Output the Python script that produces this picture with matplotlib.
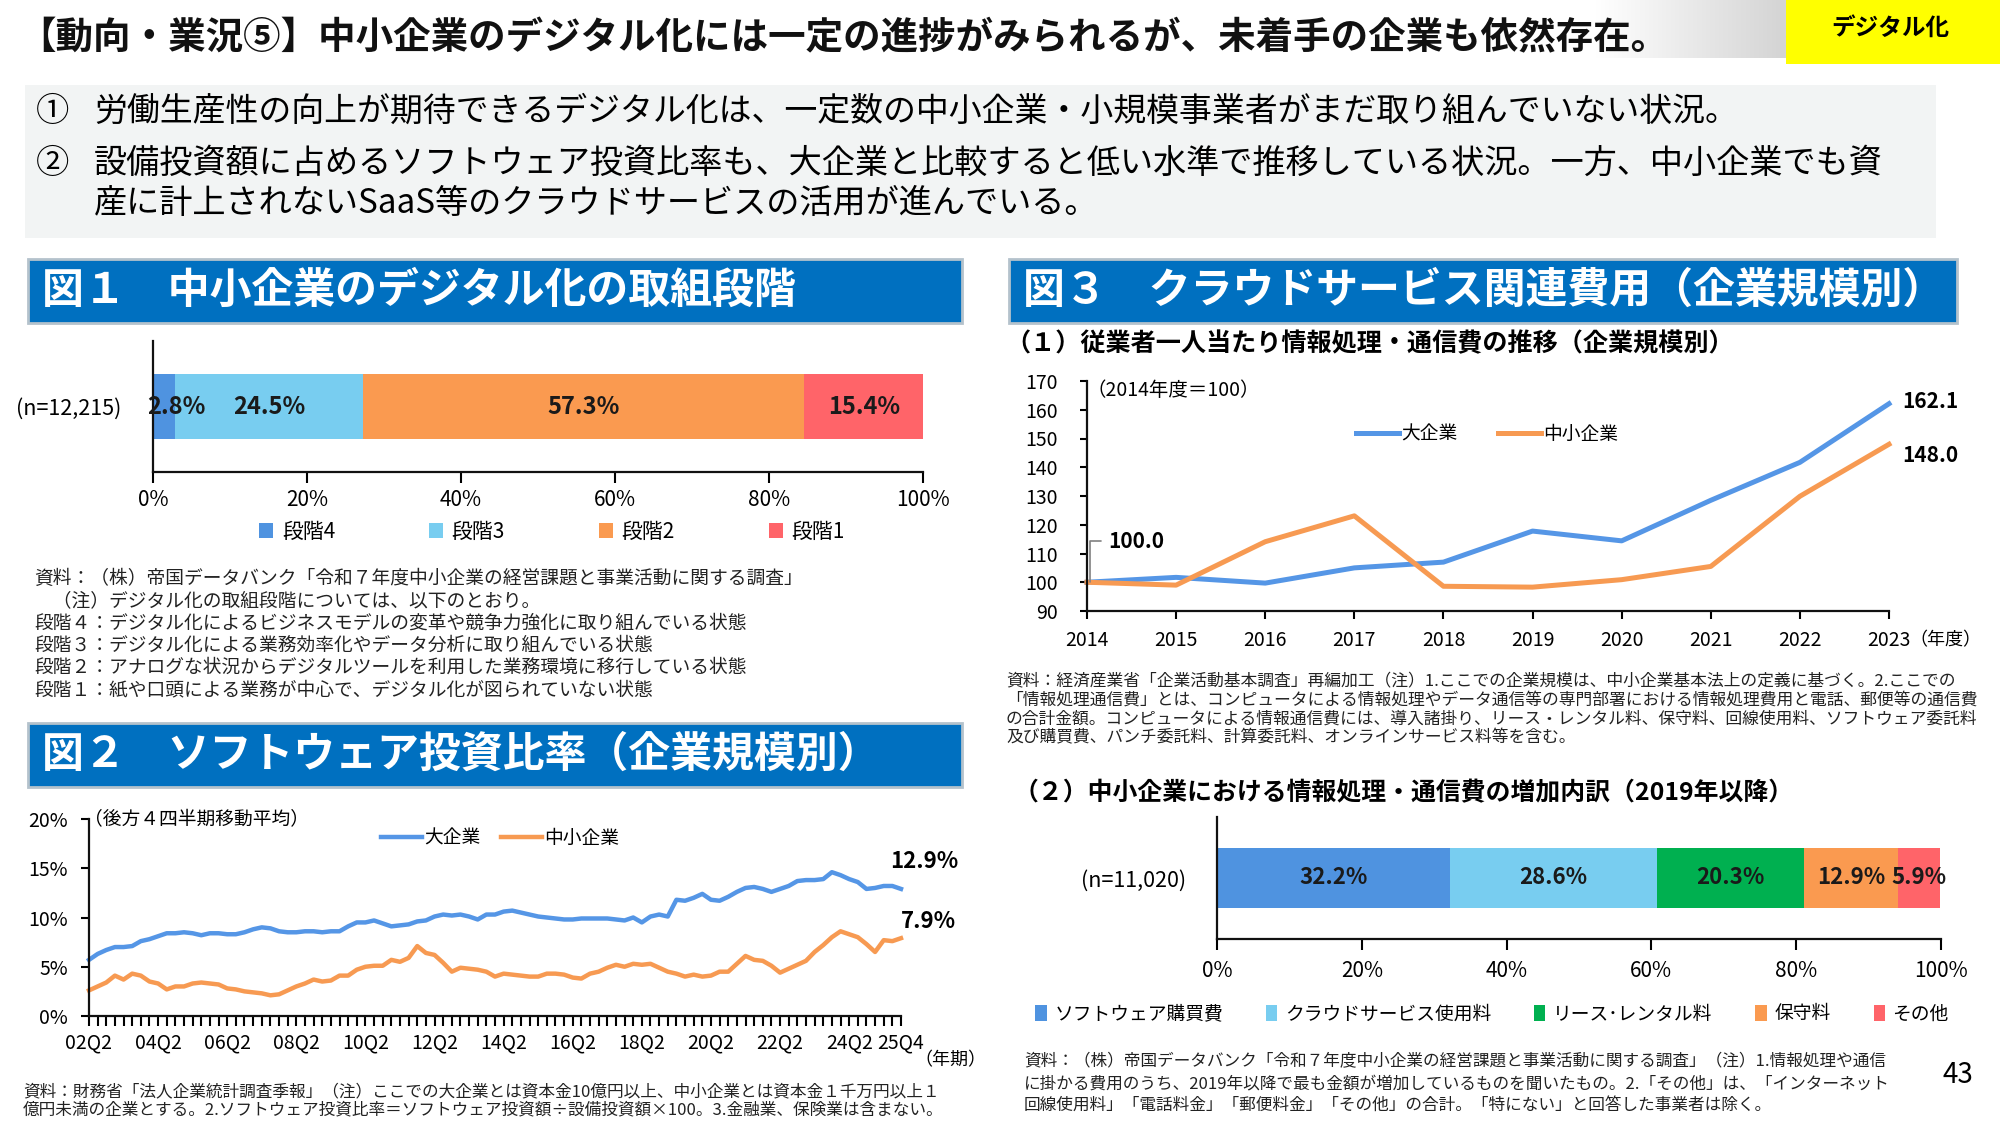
import numpy as np
import pandas as pd
import matplotlib
matplotlib.use('Agg')
import matplotlib.pyplot as plt
from matplotlib.patches import Rectangle
from matplotlib.colors import LinearSegmentedColormap

plt.rcParams['font.family'] = ['Noto Sans CJK JP', 'DejaVu Sans']

W, H = 2000, 1125

# ---- データ ----
# 図1 デジタル化の取組段階
stage_labels = ['段階4', '段階3', '段階2', '段階1']
stage_share = [2.8, 24.5, 57.3, 15.4]
stage_colors = ['#4F93E0', '#78CDF0', '#FA9A50', '#FF6469']

# 図2 ソフトウェア投資比率（後方4四半期移動平均, %） 02Q2〜25Q4
quarters = pd.period_range('2002Q2', '2025Q4', freq='Q')
q_labels = [f'{p.year % 100:02d}Q{p.quarter}' for p in quarters]
sw_large = [5.7, 6.3, 6.7, 7.0, 7.0, 7.1, 7.6, 7.8, 8.1, 8.4,
            8.4, 8.5, 8.4, 8.2, 8.4, 8.4, 8.3, 8.3, 8.5, 8.8,
            9.0, 8.9, 8.6, 8.5, 8.5, 8.6, 8.6, 8.5, 8.6, 8.6,
            9.1, 9.5, 9.5, 9.7, 9.4, 9.1, 9.2, 9.3, 9.6, 9.7,
            10.1, 10.3, 10.2, 10.3, 10.1, 9.8, 10.3, 10.3, 10.6, 10.7,
            10.5, 10.3, 10.1, 10.0, 9.9, 9.8, 9.8, 9.9, 9.9, 9.9,
            9.9, 9.8, 9.7, 10.0, 9.5, 10.1, 10.3, 10.1, 11.8, 11.7,
            12.0, 12.4, 11.8, 11.7, 12.1, 12.6, 13.0, 13.1, 12.9, 12.6,
            12.9, 13.2, 13.7, 13.8, 13.8, 13.9, 14.6, 14.3, 13.9, 13.6,
            12.9, 13.0, 13.2, 13.2, 12.9]
sw_small = [2.6, 3.0, 3.4, 4.1, 3.7, 4.3, 4.1, 3.5, 3.3, 2.7,
            3.0, 3.0, 3.3, 3.4, 3.3, 3.2, 2.8, 2.7, 2.5, 2.4,
            2.3, 2.1, 2.2, 2.6, 3.0, 3.3, 3.7, 3.5, 3.6, 4.1,
            4.1, 4.7, 5.0, 5.1, 5.1, 5.7, 5.5, 5.9, 7.1, 6.4,
            6.2, 5.4, 4.5, 4.9, 4.8, 4.7, 4.5, 4.0, 4.3, 4.2,
            4.1, 4.0, 4.0, 4.3, 4.3, 4.2, 3.9, 3.8, 4.3, 4.5,
            4.9, 5.2, 5.0, 5.3, 5.2, 5.3, 4.9, 4.5, 4.3, 4.0,
            4.2, 4.0, 4.1, 4.5, 4.5, 5.3, 6.1, 5.7, 5.6, 5.1,
            4.4, 4.8, 5.2, 5.6, 6.5, 7.2, 8.0, 8.6, 8.3, 8.0,
            7.3, 6.5, 7.7, 7.6, 7.9]

# 図3(1) 従業者一人当たり情報処理・通信費（2014年度=100）
years = list(range(2014, 2024))
it_large = [100.0, 101.7, 99.7, 105.0, 107.0, 117.8, 114.4, 128.5, 141.7, 162.1]
it_small = [100.0, 99.0, 114.1, 123.1, 98.6, 98.3, 100.9, 105.5, 129.9, 148.0]

# 図3(2) 増加内訳
inc_labels = ['ソフトウェア購買費', 'クラウドサービス使用料', 'リース･レンタル料', '保守料', 'その他']
inc_share = [32.2, 28.6, 20.3, 12.9, 5.9]
inc_colors = ['#4F93E0', '#78CDF0', '#00B050', '#FA9A50', '#FF6469']

BLUE = '#5596E6'
ORANGE = '#F79A52'
HEAD = '#0070C0'


def fbox(x0, y0, x1, y1):
    return [x0 / W, 1 - y1 / H, (x1 - x0) / W, (y1 - y0) / H]


def ftext(x, y, s, **kw):
    return fig.text(x / W, 1 - y / H, s, **kw)


def frect(x0, y0, x1, y1, **kw):
    fig.add_artist(Rectangle((x0 / W, 1 - y1 / H), (x1 - x0) / W, (y1 - y0) / H,
                             transform=fig.transFigure, **kw))


def notes(x, y0, step, lines, size=12):
    for k, s in enumerate(lines):
        ftext(x, y0 + k * step, s, fontsize=size, va='center', color='#222222')


def style_axes(ax):
    for s in ['top', 'right']:
        ax.spines[s].set_visible(False)
    for s in ['left', 'bottom']:
        ax.spines[s].set_linewidth(1.6)
        ax.spines[s].set_color('#111111')


fig = plt.figure(figsize=(20, 11.25), dpi=100)

# ---- ヘッダー ----
ftext(18, 38, '【動向・業況⑤】中小企業のデジタル化には一定の進捗がみられるが、未着手の企業も依然存在。',
      fontsize=27, fontweight='bold', va='center', color='#111111')
axg = fig.add_axes(fbox(1595, 0, 1786, 58))
axg.imshow(np.linspace(0, 1, 100).reshape(1, -1), aspect='auto',
           cmap=LinearSegmentedColormap.from_list('g', ['#ffffff', '#d4d4d4']))
axg.axis('off')
frect(1786, 0, 2000, 64, facecolor='#FFFF00', edgecolor='none')
ftext(1890, 28, 'デジタル化', fontsize=17, fontweight='bold', ha='center', va='center')

frect(25, 85, 1936, 238, facecolor='#F2F4F4', edgecolor='none')
ftext(36, 112, '①', fontsize=24, va='center')
ftext(94, 112, '労働生産性の向上が期待できるデジタル化は、一定数の中小企業・小規模事業者がまだ取り組んでいない状況。',
      fontsize=23.7, va='center')
ftext(36, 163, '②', fontsize=24, va='center')
ftext(94, 163, '設備投資額に占めるソフトウェア投資比率も、大企業と比較すると低い水準で推移している状況。一方、中小企業でも資',
      fontsize=23.9, va='center')
ftext(94, 203, '産に計上されないSaaS等のクラウドサービスの活用が進んでいる。', fontsize=23.9, va='center')

# ---- パネル見出し ----
for (x0, y0, x1, y1), t in [((28, 259, 962, 323), '図１　中小企業のデジタル化の取組段階'),
                            ((28, 723, 962, 787), '図２　ソフトウェア投資比率（企業規模別）'),
                            ((1009, 259, 1957, 323), '図３　クラウドサービス関連費用（企業規模別）')]:
    frect(x0, y0, x1, y1, facecolor=HEAD, edgecolor='#B4C2CC', lw=2)
    ftext(x0 + 14, (y0 + y1) / 2, t, color='white', fontsize=30.2, fontweight='bold', va='center')

# ---- 図1 ----
ax1 = fig.add_axes(fbox(153, 341, 923, 472))
left = 0
for i, (lab, v, c) in enumerate(zip(stage_labels, stage_share, stage_colors)):
    bars = ax1.barh(0, v, left=left, height=0.98, color=c, label=lab)
    ax1.bar_label(bars, labels=[f'{v}%'], label_type='center', padding=9 if i == 0 else 0,
                  fontsize=17, fontweight='bold', color='#1a1a1a')
    left += v
ax1.set_xlim(0, 100)
ax1.set_ylim(-1, 1)
ax1.set_xticks(range(0, 101, 20), labels=[f'{t}%' for t in range(0, 101, 20)])
ax1.set_yticks([0], labels=['(n=12,215)'])
ax1.tick_params(axis='y', length=0, pad=23, labelsize=15.5)
ax1.tick_params(axis='x', length=8, width=1.5, pad=4, labelsize=15)
style_axes(ax1)
ax1.legend(loc='center', bbox_to_anchor=(552 / W, 1 - 532 / H), bbox_transform=fig.transFigure,
           ncol=4, frameon=False, fontsize=15, handlelength=0.7, handleheight=0.7,
           handletextpad=0.4, columnspacing=4.5)

notes(34, 578, 22.4, ['資料：（株）帝国データバンク「令和７年度中小企業の経営課題と事業活動に関する調査」',
                      '　（注）デジタル化の取組段階については、以下のとおり。',
                      '段階４：デジタル化によるビジネスモデルの変革や競争力強化に取り組んでいる状態',
                      '段階３：デジタル化による業務効率化やデータ分析に取り組んでいる状態',
                      '段階２：アナログな状況からデジタルツールを利用した業務環境に移行している状態',
                      '段階１：紙や口頭による業務が中心で、デジタル化が図られていない状態'], size=13.5)

# ---- 図2 ----
ax2 = fig.add_axes(fbox(89, 819, 901, 1016))
x = np.arange(len(quarters))
ax2.plot(x, sw_large, color=BLUE, lw=3.2, label='大企業', clip_on=False)
ax2.plot(x, sw_small, color=ORANGE, lw=3.2, label='中小企業', clip_on=False)
ax2.set_xlim(0, len(x) - 1)
ax2.set_ylim(0, 20)
major = list(range(0, len(x), 8)) + [len(x) - 1]
ax2.set_xticks(major, labels=[q_labels[i] for i in major])
ax2.set_xticks(x, minor=True)
ax2.tick_params(axis='x', which='both', length=7, width=1.5, pad=5, labelsize=14)
ax2.set_yticks(range(0, 21, 5), labels=[f'{t}%' for t in range(0, 21, 5)])
ax2.tick_params(axis='y', length=6, width=1.5, pad=9, labelsize=14)
style_axes(ax2)
ax2.legend(loc='center', bbox_to_anchor=(500 / W, 1 - 838 / H), bbox_transform=fig.transFigure,
           ncol=2, frameon=False, fontsize=13.5, handlelength=2.2, handletextpad=0.1,
           columnspacing=1.1)
ax2.annotate(f'{sw_large[-1]}%', xy=(x[-1], sw_large[-1]), xytext=(16.5, 19.5),
             textcoords='offset points', ha='center', va='center', fontsize=16, fontweight='bold')
ax2.annotate(f'{sw_small[-1]}%', xy=(x[-1], sw_small[-1]), xytext=(20, 12),
             textcoords='offset points', ha='center', va='center', fontsize=16, fontweight='bold')
ftext(84, 820, '（後方４四半期移動平均）', fontsize=13.5, va='center')
ftext(950, 1060, '（年期）', fontsize=13, ha='center', va='center')
notes(23, 1092, 18, ['資料：財務省「法人企業統計調査季報」（注）ここでの大企業とは資本金10億円以上、中小企業とは資本金１千万円以上１',
                     '億円未満の企業とする。2.ソフトウェア投資比率＝ソフトウェア投資額÷設備投資額×100。3.金融業、保険業は含まない。'])

# ---- 図3(1) ----
ftext(1005, 344, '（１）従業者一人当たり情報処理・通信費の推移（企業規模別）',
      fontsize=18.1, fontweight='bold', va='center')
ax3 = fig.add_axes(fbox(1087, 381, 1889, 611))
ax3.plot(years, it_large, color=BLUE, lw=3.6, label='大企業', clip_on=False)
ax3.plot(years, it_small, color=ORANGE, lw=3.6, label='中小企業', clip_on=False)
ax3.set_xlim(years[0], years[-1])
ax3.set_ylim(90, 170)
ax3.set_xticks(years)
ax3.set_yticks(range(90, 171, 10))
ax3.tick_params(axis='x', length=6, width=1.5, pad=8, labelsize=14)
ax3.tick_params(axis='y', length=5, width=1.5, pad=16, labelsize=14)
style_axes(ax3)
ax3.legend(loc='center', bbox_to_anchor=(1487 / W, 1 - 434 / H), bbox_transform=fig.transFigure,
           ncol=2, frameon=False, fontsize=13.5, handlelength=2.3, handletextpad=0.1,
           columnspacing=2.2)
ax3.annotate(f'{it_large[-1]:.1f}', xy=(years[-1], it_large[-1]), xytext=(9.4, 1.4),
             textcoords='offset points', ha='left', va='center', fontsize=15, fontweight='bold')
ax3.annotate(f'{it_small[-1]:.1f}', xy=(years[-1], it_small[-1]), xytext=(9.4, -8),
             textcoords='offset points', ha='left', va='center', fontsize=15, fontweight='bold')
ax3.annotate(f'{it_large[0]:.1f}', xy=(years[0] + 0.03, it_large[0]), xytext=(years[0] + 0.24, 114.3),
             ha='left', va='center', fontsize=15, fontweight='bold',
             arrowprops=dict(arrowstyle='-', color='#808080', lw=1.2, shrinkA=3, shrinkB=0,
                             relpos=(0, 0.5), connectionstyle='angle,angleA=0,angleB=90,rad=0'))
ftext(1086, 390, '（2014年度＝100）', fontsize=14, va='center')
ftext(1945, 640, '（年度）', fontsize=13, ha='center', va='center')
notes(1006, 681, 19, ['資料：経済産業省「企業活動基本調査」再編加工（注）1.ここでの企業規模は、中小企業基本法上の定義に基づく。2.ここでの',
                      '「情報処理通信費」とは、コンピュータによる情報処理やデータ通信等の専門部署における情報処理費用と電話、郵便等の通信費',
                      'の合計金額。コンピュータによる情報通信費には、導入諸掛り、リース・レンタル料、保守料、回線使用料、ソフトウェア委託料',
                      '及び購買費、パンチ委託料、計算委託料、オンラインサービス料等を含む。'], size=12.1)

# ---- 図3(2) ----
ftext(1014, 793, '（２）中小企業における情報処理・通信費の増加内訳（2019年以降）',
      fontsize=17.9, fontweight='bold', va='center')
ax4 = fig.add_axes(fbox(1217, 817, 1941, 939))
left = 0
for lab, v, c in zip(inc_labels, inc_share, inc_colors):
    bars = ax4.barh(0, v, left=left, height=0.98, color=c, label=lab)
    ax4.bar_label(bars, labels=[f'{v}%'], label_type='center', fontsize=16,
                  fontweight='bold', color='#1a1a1a')
    left += v
ax4.set_xlim(0, 100)
ax4.set_ylim(-1, 1)
ax4.set_xticks(range(0, 101, 20), labels=[f'{t}%' for t in range(0, 101, 20)])
ax4.set_yticks([0], labels=['(n=11,020)'])
ax4.tick_params(axis='y', length=0, pad=22, labelsize=15.5)
ax4.tick_params(axis='x', length=8, width=1.5, pad=7, labelsize=15)
style_axes(ax4)
ax4.legend(loc='center', bbox_to_anchor=(1492 / W, 1 - 1014 / H), bbox_transform=fig.transFigure,
           ncol=5, frameon=False, fontsize=13.5, handlelength=0.6, handleheight=0.9,
           handletextpad=0.4, columnspacing=2.3)
notes(1024, 1062, 21.5, ['資料：（株）帝国データバンク「令和７年度中小企業の経営課題と事業活動に関する調査」（注）1.情報処理や通信',
                         'に掛かる費用のうち、2019年以降で最も金額が増加しているものを聞いたもの。2.「その他」は、「インターネット',
                         '回線使用料」「電話料金」「郵便料金」「その他」の合計。「特にない」と回答した事業者は除く。'])

ftext(1958, 1075, '43', fontsize=20, ha='center', va='center')

fig.savefig('out.png', dpi=100)
